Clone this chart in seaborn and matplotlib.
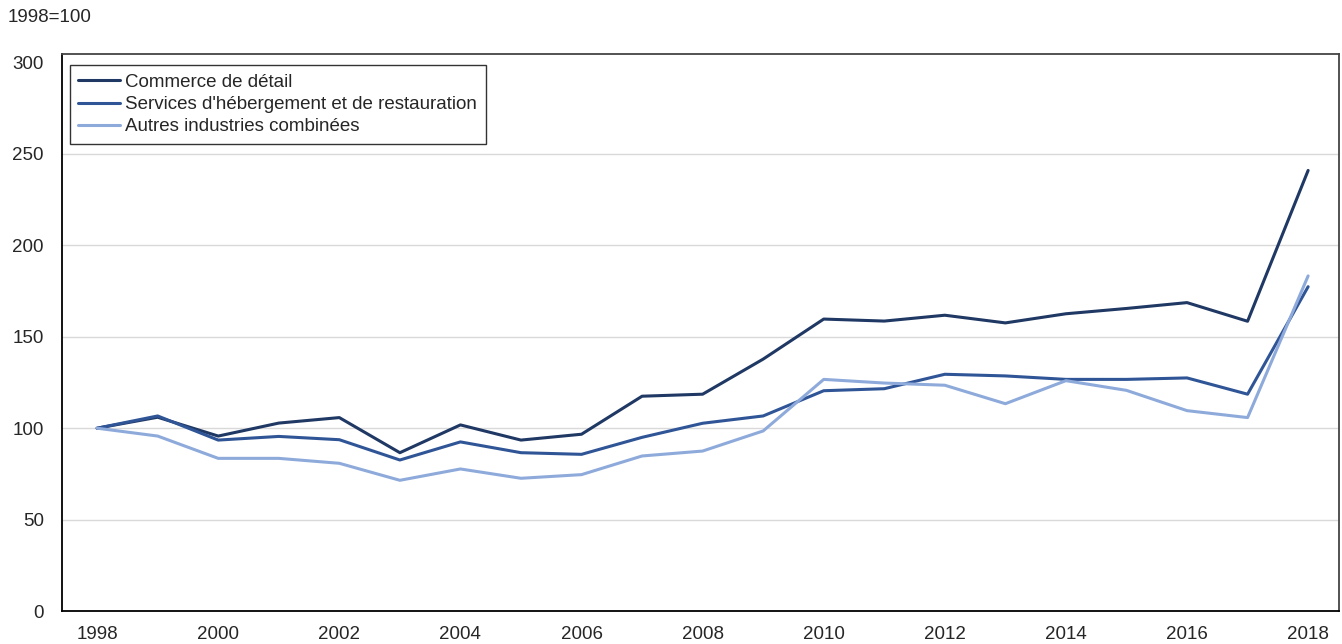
import pandas as pd
import seaborn as sns
import matplotlib.pyplot as plt

years = list(range(1998, 2019))
commerce = [100, 106, 95.7, 102.8, 105.8, 86.6, 101.8, 93.5, 96.7, 117.5, 118.6,
            137.8, 159.7, 158.6, 161.8, 157.6, 162.6, 165.5, 168.7, 158.5, 241]
services = [100, 106.7, 93.5, 95.5, 93.7, 82.6, 92.5, 86.6, 85.7, 95, 102.7,
            106.7, 120.5, 121.6, 129.5, 128.6, 126.7, 126.7, 127.5, 118.6, 177.4]
autres = [100, 95.7, 83.5, 83.5, 80.8, 71.5, 77.7, 72.6, 74.6, 84.8, 87.5,
          98.5, 126.7, 124.7, 123.5, 113.4, 126, 120.7, 109.6, 105.8, 183.3]
series_names = ["Commerce de détail",
                "Services d'hébergement et de restauration",
                "Autres industries combinées"]
colors = ["#1f3864", "#2f5597", "#8eaadb"]

df = pd.DataFrame({"year": years * 3,
                   "value": commerce + services + autres,
                   "serie": [n for n in series_names for _ in years]})

sns.set_style("white")
plt.rcParams["font.family"] = ["Liberation Sans", "DejaVu Sans"]
plt.rcParams["font.size"] = 13.5

fig = plt.figure(figsize=(13.42, 6.44), dpi=100)
ax = fig.add_axes([62 / 1342, 33 / 644, 1277 / 1342, 557 / 644])

sns.lineplot(data=df, x="year", y="value", hue="serie", palette=colors,
             hue_order=series_names, linewidth=2.2, ax=ax)

ax.set_xlim(1997.42, 2018.51)
ax.set_ylim(0, 304.7)
ax.set_yticks(range(0, 301, 50))
ax.set_xticks(years)
ax.set_xticklabels([str(y) if y % 2 == 0 else "" for y in years])
ax.set_xlabel("")
ax.set_ylabel("")
ax.yaxis.grid(True, color="#d9d9d9", linewidth=1)
ax.get_ygridlines()[-1].set_visible(False)  # pas de ligne à 300
ax.set_axisbelow(True)
ax.tick_params(axis="x", direction="in", length=5, width=1, color="black",
               labelsize=13.5, pad=11)
ax.tick_params(axis="y", length=0, labelsize=13.5, pad=13)
for s in ["left", "bottom"]:
    ax.spines[s].set_color("black")
    ax.spines[s].set_linewidth(1.3)
for s in ["top", "right"]:
    ax.spines[s].set_color("#444444")
    ax.spines[s].set_linewidth(1.3)

leg = ax.legend(loc="upper left", bbox_to_anchor=(0.0063, 0.98), borderaxespad=0,
                fontsize=13.5, frameon=True, fancybox=False, edgecolor="black",
                handlelength=2.2, handletextpad=0.3, borderpad=0.45,
                labelspacing=0.28)
leg.get_frame().set_linewidth(1)

fig.text(8 / 1342, 1 - 18 / 644, "1998=100", fontsize=13.5, va="center", ha="left")

fig.savefig("out.png", dpi=100)
